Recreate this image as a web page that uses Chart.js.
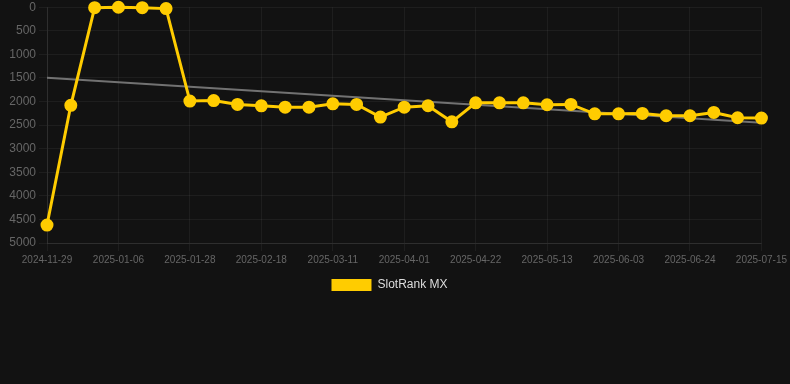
<!DOCTYPE html>
<html>
<head>
<meta charset="utf-8">
<script src="https://cdn.jsdelivr.net/npm/chart.js@4/dist/chart.umd.min.js"></script>
<style>
  html, body { margin: 0; padding: 0; background: #121212; }
  #wrap { position: relative; width: 790px; height: 310px; margin-top: -3px; }
</style>
</head>
<body>
<div id="wrap"><canvas id="c"></canvas></div>
<script>
const labels = [
  "2024-11-29","2024-12-16","2024-12-30","2025-01-06","2025-01-14","2025-01-21",
  "2025-01-28","2025-02-04","2025-02-11","2025-02-18","2025-02-25","2025-03-04",
  "2025-03-11","2025-03-18","2025-03-25","2025-04-01","2025-04-08","2025-04-15",
  "2025-04-22","2025-04-29","2025-05-06","2025-05-13","2025-05-20","2025-05-27",
  "2025-06-03","2025-06-10","2025-06-17","2025-06-24","2025-07-01","2025-07-08",
  "2025-07-15"
];
const rankValues = [
  4620, 2080, 10, 1, 10, 30,
  1990, 1980, 2062, 2092, 2119, 2119,
  2048, 2062, 2330, 2119, 2090, 2430,
  2027, 2027, 2027, 2069, 2062, 2260,
  2260, 2253, 2302, 2302, 2232, 2344,
  2351
];
const trendStart = 1498;
const trendEnd = 2450;
const trendValues = labels.map((_, i) => i === 0 ? trendStart : (i === labels.length - 1 ? trendEnd : null));
const yTicks = [0, 500, 1000, 1500, 2000, 2500, 3000, 3500, 4000, 4500, 5000];

const yellow = '#FFCC00';
new Chart(document.getElementById('c'), {
  type: 'line',
  data: {
    labels: labels,
    datasets: [
      {
        label: 'SlotRank MX',
        data: rankValues,
        borderColor: yellow,
        backgroundColor: yellow,
        borderWidth: 3,
        pointRadius: 5,
        pointHoverRadius: 5,
        pointBackgroundColor: yellow,
        pointBorderColor: yellow,
        tension: 0,
        clip: false,
        order: 1
      },
      {
        label: 'trend',
        data: trendValues,
        borderColor: 'rgba(125,125,125,0.9)',
        borderWidth: 2,
        pointRadius: 0,
        spanGaps: true,
        fill: false,
        order: 2
      }
    ]
  },
  options: {
    responsive: true,
    maintainAspectRatio: false,
    animation: false,
    layout: { padding: { left: 0, right: 11, top: 0, bottom: 6 } },
    scales: {
      x: {
        offset: false,
        grid: { color: 'rgba(255,255,255,0.05)', drawTicks: true },
        border: { color: 'rgba(255,255,255,0.08)' },
        ticks: {
          color: '#666',
          font: { family: 'Liberation Sans, Arial', size: 10 },
          maxRotation: 0,
          autoSkip: true,
          callback: function(v, i) { return i % 3 === 0 ? labels[i] : null; }
        }
      },
      y: {
        reverse: true,
        min: 0,
        max: 5000,
        afterFit: function(scale) { scale.width = 47; },
        afterBuildTicks: function(scale) { scale.ticks = yTicks.map(v => ({ value: v })); },
        grid: { color: 'rgba(255,255,255,0.05)' },
        border: { color: 'rgba(255,255,255,0.08)' },
        ticks: {
          color: '#666',
          font: { family: 'Liberation Sans, Arial', size: 12 },
          callback: function(v) { return String(v); }
        }
      }
    },
    plugins: {
      legend: {
        position: 'bottom',
        labels: {
          color: '#ddd',
          font: { family: 'Liberation Sans, Arial', size: 12 },
          boxWidth: 40,
          boxHeight: 12,
          generateLabels: function(chart) {
            return Chart.defaults.plugins.legend.labels.generateLabels(chart)
              .filter(item => item.text === 'SlotRank MX')
              .map(item => Object.assign(item, { lineWidth: 0 }));
          }
        }
      },
      tooltip: { enabled: false }
    }
  }
});
</script>
</body>
</html>
